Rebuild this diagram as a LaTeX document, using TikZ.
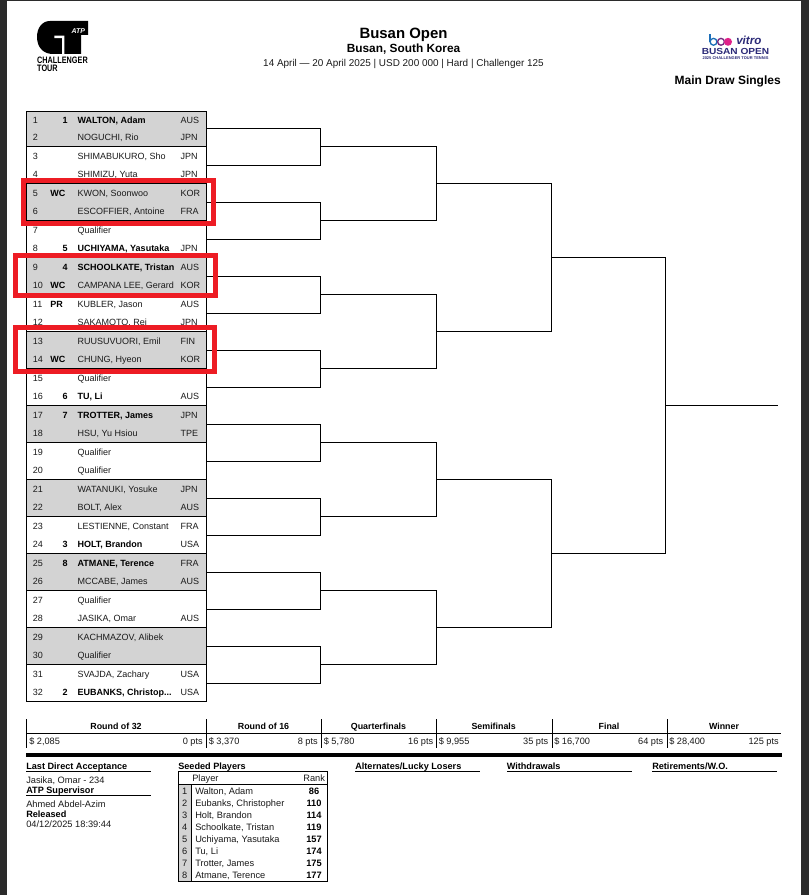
\documentclass[tikz,border=0pt]{standalone}
\usepackage{fontspec}
\setmainfont{Liberation Sans}
\definecolor{seedgray}{HTML}{D3D3D3}
\definecolor{alertred}{HTML}{ED1C24}
\definecolor{pagedark}{HTML}{2B2B2B}
\definecolor{navyb}{HTML}{2B2A78}
\definecolor{blueb}{HTML}{1D6FB8}
\definecolor{pinkb}{HTML}{E0218A}
\definecolor{inktext}{HTML}{1A1A1A}
% rows: number, y centre, name, country
\newcommand{\rowp}[4]{%
  \node[cell] (n#1) at (32.7,#2+3.2) {#1};
  \node[cell] (p#1) at (77.3,#2+3.2) {#3};
  \node[cell] (c#1) at (180.3,#2+3.2) {#4};}
\newcommand{\rowb}[4]{%
  \node[cell] (n#1) at (32.7,#2+3.2) {#1};
  \node[cellb] (p#1) at (77.3,#2+3.2) {#3};
  \node[cell] (c#1) at (180.3,#2+3.2) {#4};}
\newcommand{\rowq}[3]{%
  \node[cell] (n#1) at (32.7,#2+3.2) {#1};
  \node[cell] (p#1) at (77.3,#2+3.2) {#3};}
\newcommand{\seedn}[3]{\node[cellb,anchor=base east] (s#1) at (68,#2+3.2) {#3};}
\newcommand{\seedt}[3]{\node[cellb] (s#1) at (50,#2+3.2) {#3};}
\newcommand{\brk}[5]{%
  \coordinate (#1a) at (#2,#4); \coordinate (#1b) at (#3,#4);
  \coordinate (#1c) at (#3,#5); \coordinate (#1d) at (#2,#5);
  \draw[bracket] (#1a) -- (#1b) -- (#1c) -- (#1d);}
\newcommand{\prz}[7]{%
  \node[hdr] (h#1) at (#2,729.3) {#3};
  \node[val,anchor=base west] (m#1) at (#4,744.3) {#5};
  \node[val,anchor=base east] (t#1) at (#6,744.3) {#7};}
\newcommand{\sd}[4]{%
  \node[smallc] (sn#1) at (184.8,#2+3) {#1};
  \node[small] (sp#1) at (195,#2+3) {#3};
  \node[smallbc] (sr#1) at (314,#2+3) {#4};}
\begin{document}
\begin{tikzpicture}[x=0.75pt,y=-0.75pt,
  cell/.style={anchor=base west,inner sep=0pt,font=\fontsize{6.75pt}{7pt}\selectfont,text=inktext},
  cellb/.style={anchor=base west,inner sep=0pt,font=\fontsize{6.75pt}{7pt}\selectfont\bfseries,text=black},
  bracket/.style={draw=black,line width=0.85pt,line join=miter},
  rule/.style={draw=black,line width=0.85pt},
  redbox/.style={draw=alertred,line width=3.75pt},
  grp/.style={fill=seedgray,draw=black,line width=0.85pt},
  hdr/.style={anchor=base,inner sep=0pt,font=\fontsize{6.65pt}{7pt}\selectfont\bfseries,text=black},
  val/.style={inner sep=0pt,font=\fontsize{6.9pt}{7pt}\selectfont,text=inktext},
  small/.style={inner sep=0pt,anchor=base west,font=\fontsize{6.95pt}{7pt}\selectfont,text=inktext},
  smallc/.style={inner sep=0pt,anchor=base,font=\fontsize{6.95pt}{7pt}\selectfont,text=inktext},
  smallbc/.style={inner sep=0pt,anchor=base,font=\fontsize{6.95pt}{7pt}\selectfont\bfseries,text=black},
  smallb/.style={inner sep=0pt,anchor=base west,font=\fontsize{6.85pt}{7pt}\selectfont\bfseries,text=black}]
\useasboundingbox (0,0) rectangle (809,895);
\fill[white] (0,0) rectangle (809,895);
\fill[pagedark] (0,0) rectangle (7,895);
\fill[pagedark] (801,0) rectangle (809,895);
\fill[pagedark] (0,0) rectangle (809,1);
% ATP logo
\fill[black] (88,21) -- (50,21) .. controls (42,21) and (37,28) .. (37,37) .. controls (37,47) and (43,54) .. (53,54) -- (81,54) -- (81,35) -- (88,35) -- cycle;
\fill[white] (54.3,35.7) -- (64.3,35.7) -- (64.3,54) -- (62,54) -- (62,38.2) -- (54.3,38.2) -- cycle;
\node[inner sep=0pt,anchor=base,text=white,font=\fontsize{5.2pt}{5pt}\selectfont\bfseries\itshape] (atpmark) at (78.3,33.3) {ATP};
\node[inner sep=0pt,anchor=base west,font=\fontsize{7pt}{7pt}\selectfont\bfseries,xscale=0.78] (logoa) at (37,63.3) {CHALLENGER};
\node[inner sep=0pt,anchor=base west,font=\fontsize{7pt}{7pt}\selectfont\bfseries,xscale=0.78] (logob) at (37,71.5) {TOUR};
% Title
\node[inner sep=0pt,anchor=base,font=\fontsize{11.2pt}{12pt}\selectfont\bfseries] (title) at (403.5,38.3) {Busan Open};
\node[inner sep=0pt,anchor=base,font=\fontsize{8.9pt}{10pt}\selectfont\bfseries] (subt) at (403.5,52.3) {Busan, South Korea};
\node[inner sep=0pt,anchor=base,font=\fontsize{7.45pt}{8pt}\selectfont,text=inktext] (dates) at (403.5,66.7) {14 April — 20 April 2025 | USD 200 000 | Hard | Challenger 125};
% Busan logo
\draw[blueb,line width=1pt] (713.5,41.8) circle (3.4);
\draw[blueb,line width=1pt] (710.1,41.8) -- (710.1,34.3);
\draw[navyb!60!pinkb,line width=1pt] (721,41.8) circle (3.4);
\fill[pinkb] (728,41.8) circle (4);
\node[inner sep=0pt,anchor=base west,text=navyb,font=\fontsize{8.7pt}{9pt}\selectfont\bfseries\itshape] (vitro) at (736,45) {vitro};
\node[inner sep=0pt,text=navyb,font=\fontsize{6.6pt}{8pt}\selectfont\bfseries,xscale=1.15] (bo) at (735.5,51.7) {BUSAN OPEN};
\node[inner sep=0pt,text=navyb,font=\fontsize{3pt}{3pt}\selectfont\bfseries] (bs) at (735.5,57.7) {2025 CHALLENGER TOUR TENNIS};
\node[inner sep=0pt,anchor=base east,font=\fontsize{9pt}{10pt}\selectfont\bfseries] (mds) at (781,85) {Main Draw Singles};
% Draw table: shaded groups
\foreach \ya/\yb in {111.5/146.5,183.5/220.5,257.5/294.5,331.5/368.5,405.5/442.5,479.5/516.5,553.5/590.5,627.5/664.5}
  \filldraw[grp] (26.5,\ya) rectangle (206.5,\yb);
\draw[rule] (26.5,111.5) rectangle (206.5,701.5);
% Brackets
\brk{ra}{206.5}{320.5}{128.5}{165.5}
\brk{rb}{206.5}{320.5}{202.5}{239.5}
\brk{rc}{206.5}{320.5}{276.5}{313.5}
\brk{rd}{206.5}{320.5}{350.5}{387.5}
\brk{re}{206.5}{320.5}{424.5}{461.5}
\brk{rf}{206.5}{320.5}{498.5}{535.5}
\brk{rg}{206.5}{320.5}{572.5}{609.5}
\brk{rh}{206.5}{320.5}{646.5}{683.5}
\brk{qa}{320.5}{436.5}{146.5}{220.5}
\brk{qb}{320.5}{436.5}{294.5}{368.5}
\brk{qc}{320.5}{436.5}{442.5}{516.5}
\brk{qd}{320.5}{436.5}{590.5}{664.5}
\brk{sa}{436.5}{551.5}{183.5}{331.5}
\brk{sb}{436.5}{551.5}{479.5}{627.5}
\brk{fa}{551.5}{665.5}{257.5}{553.5}
\coordinate (fin) at (665.5,405.5);
\coordinate (win) at (778,405.5);
\draw[bracket] (fin) -- (win);
% Players
\rowb{1}{120}{WALTON, Adam}{AUS}\seedn{1}{120}{1}
\rowp{2}{137}{NOGUCHI, Rio}{JPN}
\rowp{3}{156}{SHIMABUKURO, Sho}{JPN}
\rowp{4}{174}{SHIMIZU, Yuta}{JPN}
\rowp{5}{193}{KWON, Soonwoo}{KOR}\seedt{5}{193}{WC}
\rowp{6}{211}{ESCOFFIER, Antoine}{FRA}
\rowq{7}{230}{Qualifier}
\rowb{8}{248}{UCHIYAMA, Yasutaka}{JPN}\seedn{8}{248}{5}
\rowb{9}{267}{SCHOOLKATE, Tristan}{AUS}\seedn{9}{267}{4}
\rowp{10}{285}{CAMPANA LEE, Gerard}{KOR}\seedt{10}{285}{WC}
\rowp{11}{304}{KUBLER, Jason}{AUS}\seedt{11}{304}{PR}
\rowp{12}{322}{SAKAMOTO, Rei}{JPN}
\rowp{13}{341}{RUUSUVUORI, Emil}{FIN}
\rowp{14}{359}{CHUNG, Hyeon}{KOR}\seedt{14}{359}{WC}
\rowq{15}{378}{Qualifier}
\rowb{16}{396}{TU, Li}{AUS}\seedn{16}{396}{6}
\rowb{17}{415}{TROTTER, James}{JPN}\seedn{17}{415}{7}
\rowp{18}{433}{HSU, Yu Hsiou}{TPE}
\rowq{19}{452}{Qualifier}
\rowq{20}{470}{Qualifier}
\rowp{21}{489}{WATANUKI, Yosuke}{JPN}
\rowp{22}{507}{BOLT, Alex}{AUS}
\rowp{23}{526}{LESTIENNE, Constant}{FRA}
\rowb{24}{544}{HOLT, Brandon}{USA}\seedn{24}{544}{3}
\rowb{25}{563}{ATMANE, Terence}{FRA}\seedn{25}{563}{8}
\rowp{26}{581}{MCCABE, James}{AUS}
\rowq{27}{600}{Qualifier}
\rowp{28}{618}{JASIKA, Omar}{AUS}
\rowq{29}{637}{KACHMAZOV, Alibek}
\rowq{30}{655}{Qualifier}
\rowp{31}{674}{SVAJDA, Zachary}{USA}
\rowb{32}{692}{EUBANKS, Christop...}{USA}\seedn{32}{692}{2}
% Red highlight boxes
\draw[redbox] (23.5,180.2) rectangle (213.5,223.5);
\draw[redbox] (15.5,255.8) rectangle (215.5,295.2);
\draw[redbox] (15.5,327.5) rectangle (214.5,371.2);
% Prize table
\foreach \x in {26.5,206.5,321.5,436.5,552.5,667.5}
  \draw[rule] (\x,719) -- (\x,748);
\draw[rule] (26.5,733.5) -- (781,733.5);
\prz{a}{116}{Round of 32}{29}{\$ 2,085}{203}{0 pts}
\prz{b}{263.5}{Round of 16}{208.5}{\$ 3,370}{318}{8 pts}
\prz{c}{378.5}{Quarterfinals}{323.5}{\$ 5,780}{433.5}{16 pts}
\prz{d}{493.7}{Semifinals}{438.5}{\$ 9,955}{548.5}{35 pts}
\prz{e}{609}{Final}{554}{\$ 16,700}{663.5}{64 pts}
\prz{f}{724}{Winner}{669}{\$ 28,400}{779}{125 pts}
\fill[black] (26,752.6) rectangle (781.5,756.6);
% Footer
\node[smallb] (lda) at (26,769) {Last Direct Acceptance};
\draw[rule] (26,771.5) -- (151,771.5);
\node[small] (jas) at (26,783) {Jasika, Omar - 234};
\node[smallb] (sup) at (26,793) {ATP Supervisor};
\draw[rule] (26,795.5) -- (151,795.5);
\node[small] (ahm) at (26,807) {Ahmed Abdel-Azim};
\node[smallb] (rel) at (26,817) {Released};
\node[small] (dat) at (26,827) {04/12/2025 18:39:44};
\node[smallb] (seedh) at (178,769) {Seeded Players};
\node[smallb] (alt) at (355,769) {Alternates/Lucky Losers};
\draw[rule] (355,771.5) -- (480,771.5);
\node[smallb] (wd) at (506.5,769) {Withdrawals};
\draw[rule] (507,771.5) -- (632,771.5);
\node[smallb] (ret) at (652,769) {Retirements/W.O.};
\draw[rule] (652,771.5) -- (777,771.5);
% Seeded table
\fill[seedgray] (178.5,784.5) rectangle (191.5,881.5);
\draw[rule] (178.5,771.5) rectangle (327.5,881.5);
\draw[rule] (178.5,784.5) -- (327.5,784.5);
\draw[rule] (191.5,784.5) -- (191.5,881.5);
\node[small] (plh) at (192,781) {Player};
\node[small,anchor=base east] (rkh) at (325.3,781) {Rank};
\sd{1}{791}{Walton, Adam}{86}
\sd{2}{803}{Eubanks, Christopher}{110}
\sd{3}{815}{Holt, Brandon}{114}
\sd{4}{827}{Schoolkate, Tristan}{119}
\sd{5}{839}{Uchiyama, Yasutaka}{157}
\sd{6}{851}{Tu, Li}{174}
\sd{7}{863}{Trotter, James}{175}
\sd{8}{875}{Atmane, Terence}{177}
\end{tikzpicture}
\end{document}
